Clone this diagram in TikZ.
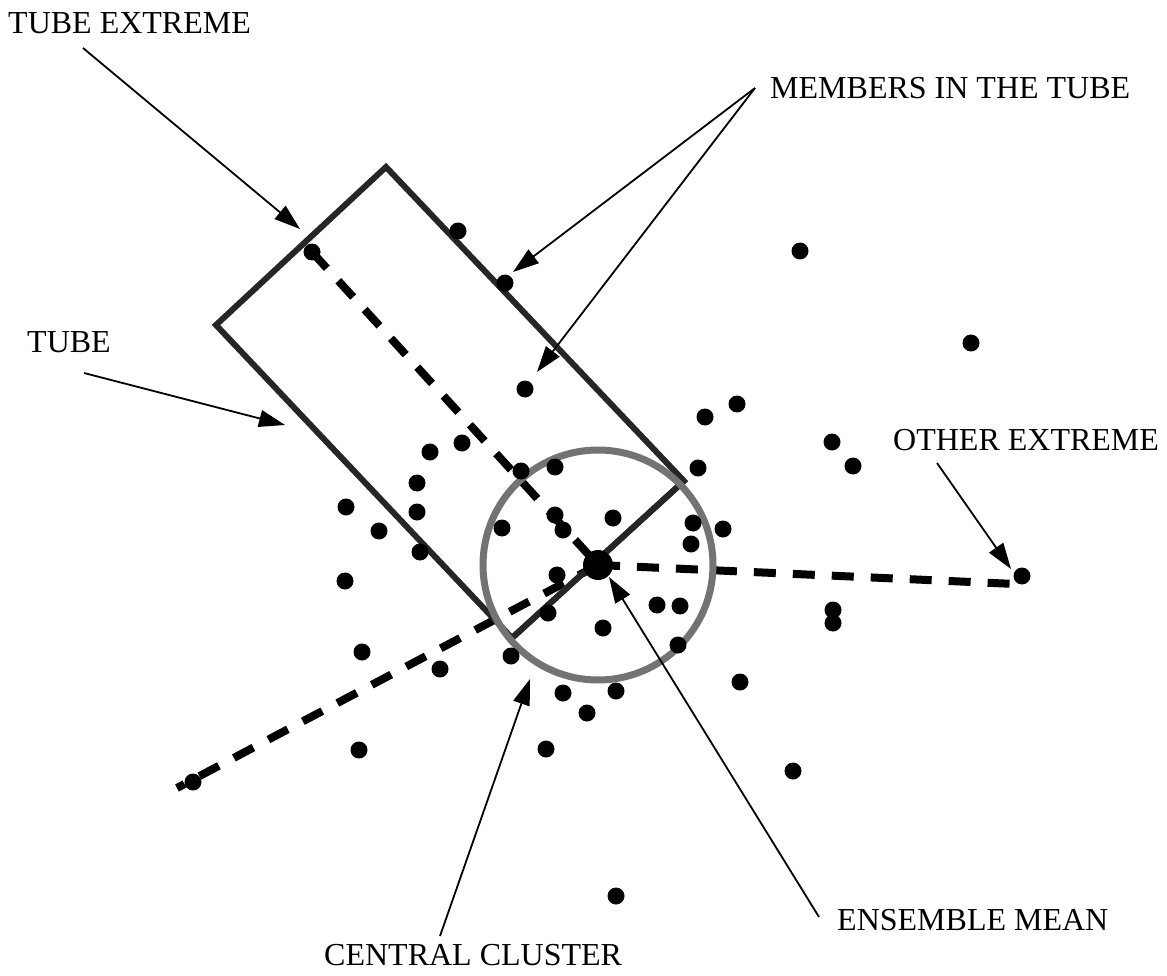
\documentclass[tikz,border=0pt]{standalone}
\usepackage{fontspec}
\setmainfont{Liberation Serif}
\usetikzlibrary{arrows.meta}
\begin{document}
\begin{tikzpicture}[x=1pt,y=-1pt,
  dot/.style={circle,fill=black,inner sep=0pt,minimum size=17pt},
  bigdot/.style={circle,fill=black,inner sep=0pt,minimum size=30pt},
  lbl/.style={anchor=west,inner sep=0pt,font=\fontsize{32}{36}\selectfont},
  tubeline/.style={draw=black!85,line width=6pt,line join=miter},
  axis/.style={line width=8pt,dash pattern=on 22pt off 17pt},
  ptr/.style={line width=1.8pt,-{Triangle[length=26pt,width=17pt]}},
  clusterring/.style={draw=black!55,line width=7pt}]
\useasboundingbox (0,0) rectangle (1167,976);
% tube corners
\coordinate (tA) at (386,167);
\coordinate (tB) at (216,325);
\coordinate (tC) at (512,638);
\coordinate (tD) at (684,481);
\coordinate (mc) at (598,565);
% dashed axes
\coordinate (leftend) at (177,788);
\coordinate (rightend) at (1015,584);
\node[dot] (te) at (312,252) {};
\node[dot] (oe) at (1022,576) {};
\node[dot] (ll) at (193,782) {};
\draw[axis] (te.center) -- (mc);
\draw[axis] (mc) -- (leftend);
\draw[axis] (mc) -- (rightend);
% tube
\draw[tubeline] (tA) -- (tB) -- (tC) -- (tD) -- cycle;
\draw[tubeline,line width=6pt] (tC) -- (tD);
% circle
\draw[clusterring] (mc) circle[radius=115];
% mean
\node[bigdot] (em) at (mc) {};
% dots
\foreach \p [count=\i] in {(458,231),(505,283),(800,251),(971,343),(525,389),(705,417),(737,404),
  (832,442),(853,466),(430,452),(462,443),(521,471),(555,467),(698,468),(417,483),(417,512),
  (346,507),(379,531),(420,552),(502,528),(555,515),(563,530),(613,518),(693,523),(723,529),
  (691,544),(345,581),(557,575),(548,613),(657,605),(680,606),(603,628),(833,610),(833,623),
  (362,652),(440,669),(511,656),(678,645),(740,682),(563,693),(616,691),(587,713),(359,750),
  (546,749),(793,771),(616,896)}
  \node[dot] (p\i) at \p {};
% labels
\node[lbl] (lte) at (8,23) {TUBE EXTREME};
\node[lbl] (lmt) at (770,88) {MEMBERS IN THE TUBE};
\node[lbl] (lt) at (27,342) {TUBE};
\node[lbl] (loe) at (893,440) {OTHER EXTREME};
\node[lbl] (lcc) at (324,955) {CENTRAL CLUSTER};
\node[lbl] (lem) at (837,920) {ENSEMBLE MEAN};
% pointer targets
\coordinate (s1) at (83,48);
\coordinate (a1) at (300,229);
\coordinate (s2) at (755,88);
\coordinate (a2) at (513,272);
\coordinate (a3) at (537,372);
\coordinate (s4) at (84,373);
\coordinate (a4) at (285,425);
\coordinate (s5) at (937,463);
\coordinate (a5) at (1011,569);
\coordinate (s6) at (440,936);
\coordinate (a6) at (530,679);
\coordinate (s7) at (819,917);
\coordinate (a7) at (609,577);
\draw[ptr] (s1) -- (a1);
\draw[ptr] (s2) -- (a2);
\draw[ptr] (s2) -- (a3);
\draw[ptr] (s4) -- (a4);
\draw[ptr] (s5) -- (a5);
\draw[ptr] (s6) -- (a6);
\draw[ptr] (s7) -- (a7);
\end{tikzpicture}
\end{document}
